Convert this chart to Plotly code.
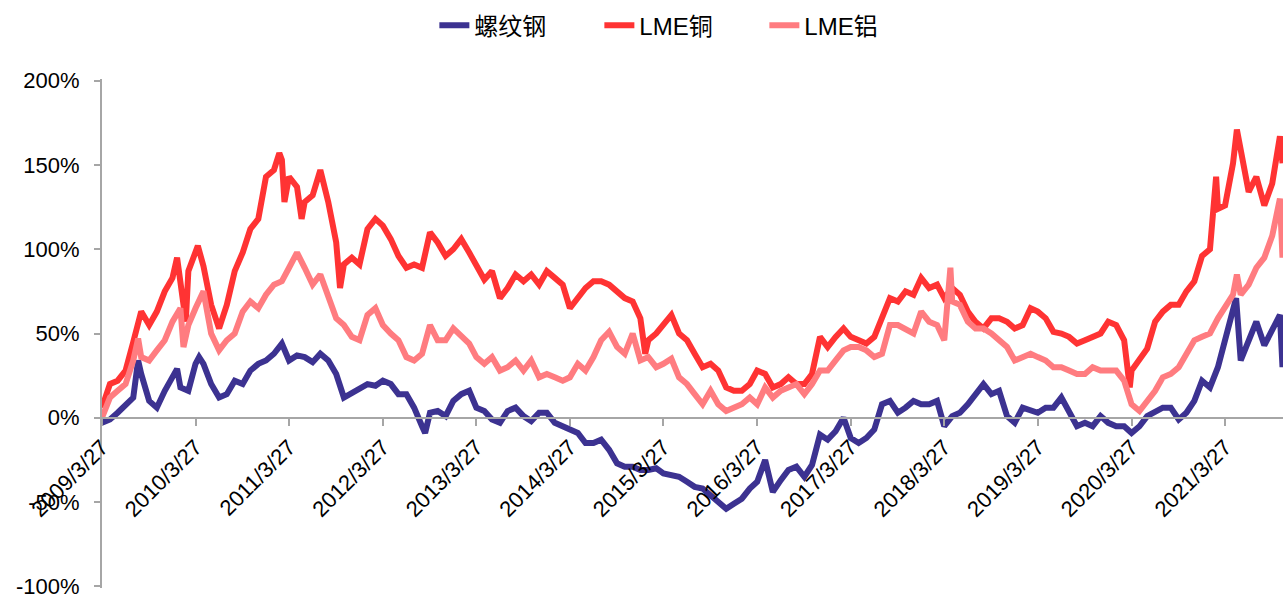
import plotly.graph_objects as go

# ---- categories: monthly sample dates (27th of each month) ----
dates = []
_y, _m = 2009, 3
for _i in range(152):
    dates.append(f"{_y}-{_m:02d}-27")
    _m += 1
    if _m > 12:
        _m = 1
        _y += 1
dates.append("2021-11-06")

tick_years = list(range(2009, 2022))
tick_vals = [f"{yr}-03-27" for yr in tick_years]
tick_text = [f"{yr}/3/27" for yr in tick_years]

series_names = ["螺纹钢", "LME铜", "LME铝"]

# ---- monthly readings (%) ----
rebar = [
    -3, -1, 3, 8, 12, 26, 10, 6, 16, 24, 18, 16,
    32, 32, 20, 12, 14, 22, 20, 28, 32, 34, 38, 44,
    34, 37, 36, 33, 38, 34, 26, 12, 15, 17, 20, 19,
    22, 20, 14, 14, 6, -5, 3, 4, 1, 10, 14, 16,
    6, 4, -1, -3, 4, 6, 1, -2, 3, 3, -3, -5,
    -7, -9, -15, -15, -13, -19, -27, -29, -29, -31, -31, -30,
    -33, -34, -35, -38, -41, -42, -46, -50, -54, -51, -48, -42,
    -38, -25, -44, -37, -31, -29, -35, -28, -10, -13, -8, 0,
    -12, -15, -12, -7, 8, 10, 3, 6, 10, 8, 8, 10,
    -5, 1, 3, 8, 14, 20, 14, 16, 1, -3, 6, 4,
    3, 6, 6, 12, 4, -5, -3, -5, 1, -3, -5, -5,
    -9, -5, 1, 4, 6, 6, -1, 3, 10, 22, 18, 30,
    46, 61, 34, 46, 57, 43, 53, 61, 30,
]

lme_cu = [
    6, 20, 22, 28, 45, 63, 55, 63, 75, 83, 81, 87,
    98, 90, 67, 53, 67, 87, 98, 112, 118, 143, 147, 153,
    143, 137, 128, 132, 147, 128, 104, 91, 95, 91, 112, 118,
    114, 106, 96, 89, 91, 89, 110, 104, 96, 100, 106, 98,
    91, 82, 87, 71, 77, 85, 81, 85, 79, 87, 83, 79,
    65, 71, 77, 81, 81, 79, 75, 71, 69, 59, 46, 50,
    55, 61, 50, 46, 38, 30, 32, 28, 18, 16, 16, 20,
    28, 26, 18, 20, 24, 20, 20, 26, 48, 42, 48, 53,
    48, 46, 44, 48, 59, 71, 69, 75, 73, 83, 77, 79,
    71, 77, 73, 63, 57, 53, 59, 59, 57, 53, 55, 65,
    63, 59, 51, 50, 48, 44, 46, 48, 50, 57, 55, 46,
    28, 34, 41, 57, 63, 67, 67, 75, 81, 96, 100, 124,
    126, 151, 159, 134, 143, 126, 139, 167, 151,
]

lme_al = [
    0, 12, 16, 20, 34, 36, 34, 40, 46, 57, 65, 55,
    65, 75, 50, 40, 46, 50, 63, 69, 65, 73, 79, 81,
    89, 98, 89, 79, 85, 71, 59, 55, 48, 46, 61, 65,
    55, 50, 46, 36, 34, 38, 55, 46, 46, 53, 48, 44,
    36, 32, 36, 28, 30, 34, 28, 34, 24, 26, 24, 22,
    24, 32, 28, 36, 46, 51, 42, 38, 50, 34, 36, 30,
    32, 35, 24, 20, 14, 8, 16, 8, 4, 6, 8, 12,
    8, 18, 12, 16, 18, 20, 14, 20, 28, 28, 34, 40,
    42, 42, 40, 36, 38, 55, 55, 53, 50, 63, 57, 55,
    46, 69, 67, 57, 53, 53, 50, 46, 42, 34, 36, 38,
    36, 34, 30, 30, 28, 26, 26, 30, 28, 28, 28, 22,
    8, 4, 10, 16, 24, 26, 30, 38, 46, 48, 50, 59,
    65, 73, 73, 79, 89, 95, 108, 130, 95,
]

# ---- extra readings at short-lived spikes / dips ----
rebar_extra_dates = ["2009-08-15", "2010-01-14", "2010-04-10", "2012-09-08", "2021-05-09"]
rebar_extra_vals = [34, 29, 36, -9, 71]

lme_cu_extra_dates = ["2010-01-14", "2010-02-17", "2010-04-05", "2011-02-17", "2011-03-09",
                      "2011-05-15", "2011-10-12", "2015-01-15", "2020-03-20", "2021-02-20",
                      "2021-05-12"]
lme_cu_extra_vals = [95, 57, 102, 157, 128, 118, 77, 38, 18, 143, 171]

lme_al_extra_dates = ["2009-08-15", "2010-02-08", "2018-04-20", "2021-05-12"]
lme_al_extra_vals = [47, 42, 89, 85]

y_ticks = [-100, -50, 0, 50, 100, 150, 200]
y_tick_text = [f"{v}%" for v in y_ticks]

colors = ["#3C3291", "#FF3333", "#FF7C80"]


def merged(main_vals, extra_dates, extra_vals):
    pts = sorted(list(zip(dates, main_vals)) + list(zip(extra_dates, extra_vals)))
    return [p[0] for p in pts], [p[1] for p in pts]


series = [
    merged(rebar, rebar_extra_dates, rebar_extra_vals),
    merged(lme_cu, lme_cu_extra_dates, lme_cu_extra_vals),
    merged(lme_al, lme_al_extra_dates, lme_al_extra_vals),
]

fig = go.Figure()
for name, (xs, ys), col in zip(series_names, series, colors):
    fig.add_trace(go.Scatter(
        x=xs, y=ys, name=name, mode="lines",
        line=dict(color=col, width=6, shape="linear"),
    ))

axis_col = "#A6A6A6"
fig.update_layout(
    width=1285, height=601,
    margin=dict(l=102, r=2, t=79, b=7),
    paper_bgcolor="white", plot_bgcolor="white",
    font=dict(family="Liberation Sans, Noto Sans CJK SC", size=22, color="black"),
    showlegend=True,
    legend=dict(
        orientation="h", x=0.491, xanchor="center", y=1.105, yanchor="middle",
        font=dict(family="Liberation Sans, Noto Sans CJK SC", size=24),
        entrywidth=120, entrywidthmode="pixels",
    ),
    xaxis=dict(
        type="date",
        range=["2009-03-27", "2021-11-08"],
        anchor="free", position=101/302,
        tickmode="array", tickvals=tick_vals, ticktext=tick_text,
        tickangle=-45,
        showline=True, linecolor=axis_col, linewidth=2,
        ticks="outside", ticklen=7, tickwidth=2, tickcolor=axis_col,
        showgrid=False, zeroline=False,
        tickfont=dict(size=22),
    ),
    yaxis=dict(
        range=[-101, 201],
        tickmode="array", tickvals=y_ticks, ticktext=y_tick_text,
        showline=True, linecolor=axis_col, linewidth=2,
        ticks="outside", ticklen=6, tickwidth=2, tickcolor=axis_col,
        showgrid=False, zeroline=False,
        tickfont=dict(size=22),
        ticklabelstandoff=10,
        ticklabeloverflow="allow",
    ),
)

fig.write_html("out.html", config={"displayModeBar": False},
               post_script="document.body.style.margin='0';")
